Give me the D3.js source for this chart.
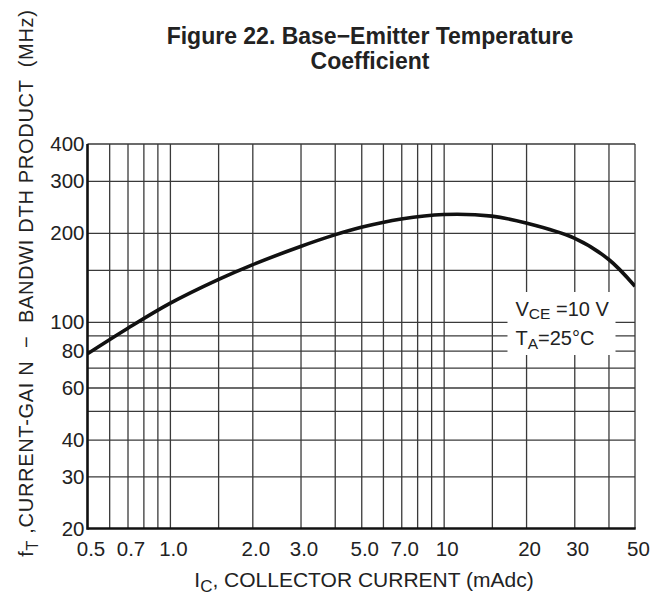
<!DOCTYPE html>
<html>
<head>
<meta charset="utf-8">
<script src="https://cdn.jsdelivr.net/npm/d3@7"></script>
<style>
  body { margin: 0; background: #fff; }
  svg { display: block; font-family: "Liberation Sans", Arial, sans-serif; }
  text { fill: #222; }
</style>
</head>
<body>
<script>
// chart values
const icValues = [0.5, 0.7, 1.0, 1.5, 2.0, 3.0, 4.0, 5.0, 7.0, 10, 15, 20, 30, 40, 50];
const ftValues = [78, 95, 115.5, 139, 156, 180, 197, 209, 223, 231, 228, 216, 192, 163, 132];

const xTicks = [0.5, 0.7, 1.0, 2.0, 3.0, 5.0, 7.0, 10, 20, 30, 50];
const xTickLabels = ['0.5', '0.7', '1.0', '2.0', '3.0', '5.0', '7.0', '10', '20', '30', '50'];
const xGrid = [0.6, 0.7, 0.8, 0.9, 1, 1.5, 2, 3, 4, 5, 6, 7, 8, 9, 10, 15, 20, 30, 40];
const yTicks = [400, 300, 200, 100, 80, 60, 40, 30, 20];
const yGrid = [300, 200, 150, 100, 90, 80, 70, 60, 50, 40, 30];

const titleLines = ['Figure 22. Base\u2212Emitter Temperature', 'Coefficient'];

//svg size and plot box
const c_width = 665;
const c_height = 596;
const m = {left: 87.5, top: 144, right: 30, bottom: 67.5};
const w = c_width - m.left - m.right;
const h = c_height - m.top - m.bottom;

const svg = d3.select('body').append('svg')
  .attr('width', c_width)
  .attr('height', c_height);

const x = d3.scaleLog().domain([0.5, 50]).range([0, w]);
const y = d3.scaleLog().domain([20, 400]).range([h, 0]);

//title
svg.append('g').selectAll('text')
  .data(titleLines)
  .enter()
  .append('text')
  .attr('x', 370)
  .attr('y', (d, i) => 44 + i * 25)
  .attr('text-anchor', 'middle')
  .attr('font-weight', 'bold')
  .attr('font-size', 23)
  .text(d => d);

const plot = svg.append('g')
  .attr('transform', 'translate(' + m.left + ',' + m.top + ')');

//grid lines
plot.append('g')
  .attr('class', 'grid')
  .attr('transform', 'translate(0,' + h + ')')
  .call(d3.axisBottom(x).tickValues(xGrid).tickSize(-h).tickFormat(''));

plot.append('g')
  .attr('class', 'grid')
  .call(d3.axisLeft(y).tickValues(yGrid).tickSize(-w).tickFormat(''));

plot.selectAll('.grid .domain').remove();
plot.selectAll('.grid line')
  .attr('stroke', '#3a3a3a')
  .attr('stroke-width', 1.3);

//frame: thin top and right, heavy left and bottom
plot.append('line').attr('x1', 0).attr('x2', w).attr('y1', y(400)).attr('y2', y(400))
  .attr('stroke', '#3a3a3a').attr('stroke-width', 1.3);
plot.append('line').attr('x1', x(50)).attr('x2', x(50)).attr('y1', 0).attr('y2', h)
  .attr('stroke', '#3a3a3a').attr('stroke-width', 1.3);
plot.append('line').attr('x1', 0).attr('x2', 0).attr('y1', 0).attr('y2', h + 1.3)
  .attr('stroke', '#111').attr('stroke-width', 2.6);
plot.append('line').attr('x1', 0).attr('x2', w + 0.7).attr('y1', h).attr('y2', h)
  .attr('stroke', '#111').attr('stroke-width', 2.6);

//tick labels
const xAxis = plot.append('g')
  .attr('transform', 'translate(0,' + h + ')')
  .call(d3.axisBottom(x).tickValues(xTicks).tickSize(0).tickPadding(13)
    .tickFormat((d, i) => xTickLabels[i]));
xAxis.select('.domain').remove();
xAxis.selectAll('text')
  .attr('font-size', 20.5)
  .attr('dx', 3)
  .attr('fill', '#222')
  .attr('font-family', null);

const yAxis = plot.append('g')
  .call(d3.axisLeft(y).tickValues(yTicks).tickSize(0).tickPadding(3)
    .tickFormat(d3.format('d')));
yAxis.select('.domain').remove();
yAxis.selectAll('text')
  .attr('font-size', 20.5)
  .attr('fill', '#222')
  .attr('font-family', null);

//the curve
plot.append('clipPath').attr('id', 'clip')
  .append('rect').attr('width', w).attr('height', h);

const line = d3.line()
  .x((d, i) => x(icValues[i]))
  .y(d => y(d))
  .curve(d3.curveCatmullRom.alpha(0.5));

plot.append('path')
  .datum(ftValues)
  .attr('clip-path', 'url(#clip)')
  .attr('fill', 'none')
  .attr('stroke', '#111')
  .attr('stroke-width', 3.6)
  .attr('d', line);

//conditions note on a white patch over the grid
const note = plot.append('g');
note.append('rect')
  .attr('x', 420).attr('y', 148)
  .attr('width', 108).attr('height', 63)
  .attr('fill', '#fff');

const t1 = note.append('text').attr('x', 428).attr('y', 172).attr('font-size', 20);
t1.append('tspan').text('V');
t1.append('tspan').attr('font-size', 15.5).attr('dy', 3).text('CE');
t1.append('tspan').attr('dy', -3).text(' =10 V');

const t2 = note.append('text').attr('x', 428).attr('y', 201).attr('font-size', 20);
t2.append('tspan').text('T');
t2.append('tspan').attr('font-size', 15.5).attr('dy', 4).text('A');
t2.append('tspan').attr('dy', -4).text('=25\u00B0C');

//axis titles
const xt = svg.append('text')
  .attr('x', 364)
  .attr('y', 587)
  .attr('text-anchor', 'middle')
  .attr('font-size', 21);
xt.append('tspan').text('I');
xt.append('tspan').attr('font-size', 17).attr('dy', 5).text('C');
xt.append('tspan').attr('dy', -5).text(', COLLECTOR CURRENT (mAdc)');

const yt = svg.append('text')
  .attr('transform', 'translate(33,283) rotate(-90)')
  .attr('text-anchor', 'middle')
  .attr('font-size', 20)
  .attr('letter-spacing', 0.7)
  .style('white-space', 'pre');
yt.append('tspan').text('f');
yt.append('tspan').attr('font-size', 16).attr('dy', 5).text('T');
yt.append('tspan').attr('dy', -5).text(' ,CURRENT-GAI N  \u2212  BANDWI DTH PRODUCT  (MHz)');
</script>
</body>
</html>
